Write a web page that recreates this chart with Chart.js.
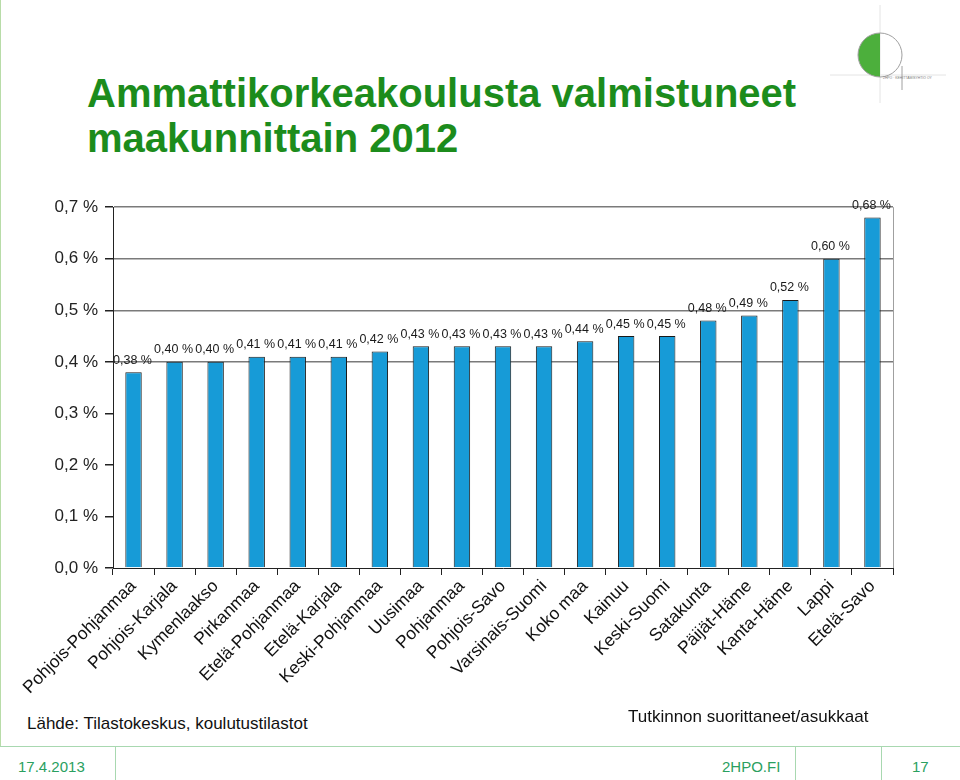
<!DOCTYPE html>
<html lang="fi">
<head>
<meta charset="utf-8">
<title>Ammattikorkeakoulusta valmistuneet maakunnittain 2012</title>
<script src="https://cdn.jsdelivr.net/npm/chart.js@4/dist/chart.umd.min.js"></script>
<style>
  html, body { margin: 0; padding: 0; background: #fff; }
  body { width: 960px; height: 780px; position: relative; overflow: hidden; font-family: "Liberation Sans", Arial, sans-serif; }
  .abs { position: absolute; white-space: nowrap; }
  #title { left: 87px; top: 71px; font-size: 40px; font-weight: bold; color: #1c8c1c; line-height: 45px; }
  #chartBox { left: 0; top: 190px; width: 960px; height: 520px; }
  #source { left: 27px; top: 714px; font-size: 17px; color: #111; }
  #unit { left: 628px; top: 707px; font-size: 17px; color: #111; }
  .foot { top: 758px; font-size: 15px; color: #2aa060; }
  .line { position: absolute; background: #a8d8b0; }
</style>
</head>
<body>

<div class="line" style="left:0;top:0;width:1px;height:747px;background:#b8dca8"></div>
<div class="line" style="left:0;top:746px;width:960px;height:1px"></div>
<div class="line" style="left:115px;top:747px;width:1px;height:33px"></div>
<div class="line" style="left:795px;top:747px;width:1px;height:33px"></div>
<div class="line" style="left:881px;top:747px;width:1px;height:33px"></div>

<svg class="abs" style="left:828px;top:0" width="132" height="110" viewBox="0 0 132 110">
  <line x1="2" y1="75" x2="118" y2="75" stroke="#e4e4e4" stroke-width="1"/>
  <line x1="52" y1="5" x2="52" y2="103" stroke="#e4e4e4" stroke-width="1"/>
  <path d="M52 33 A22 22 0 0 0 52 77 Z" fill="#4caf3c"/>
  <circle cx="52" cy="55" r="22" fill="none" stroke="#a0a0a0" stroke-width="1"/>
  <line x1="74" y1="66" x2="74" y2="90" stroke="#a0a0a0" stroke-width="1"/>
  <text x="55" y="79" font-size="3.4" fill="#7a7a7a" font-family="Liberation Sans">2HPO · KEHITTÄMISYHTIÖ OY</text>
</svg>

<div id="title" class="abs">Ammattikorkeakoulusta valmistuneet<br>maakunnittain 2012</div>

<div id="chartBox" class="abs"><canvas id="chart"></canvas></div>

<div id="source" class="abs">Lähde: Tilastokeskus, koulutustilastot</div>
<div id="unit" class="abs">Tutkinnon suorittaneet/asukkaat</div>

<div class="abs foot" style="left:18px">17.4.2013</div>
<div class="abs foot" style="left:722px">2HPO.FI</div>
<div class="abs foot" style="left:912px">17</div>

<script>
const regions = [
    'Pohjois-Pohjanmaa', 'Pohjois-Karjala', 'Kymenlaakso', 'Pirkanmaa',
    'Etelä-Pohjanmaa', 'Etelä-Karjala', 'Keski-Pohjanmaa', 'Uusimaa',
    'Pohjanmaa', 'Pohjois-Savo', 'Varsinais-Suomi', 'Koko maa', 'Kainuu',
    'Keski-Suomi', 'Satakunta', 'Päijät-Häme', 'Kanta-Häme', 'Lappi', 'Etelä-Savo'
];
const shares = [
    0.38, 0.40, 0.40, 0.41, 0.41, 0.41, 0.42, 0.43, 0.43, 0.43,
    0.43, 0.44, 0.45, 0.45, 0.48, 0.49, 0.52, 0.60, 0.68
];
const yTicks = [0, 0.1, 0.2, 0.3, 0.4, 0.5, 0.6, 0.7];

const fontFamily = '"Liberation Sans", Arial, sans-serif';
const barColor = '#179bd7';

function pct(v, digits) {
    return v.toFixed(digits).replace('.', ',') + ' %';
}

// value labels above the bars + grey right edge of the plot
const barLabels = {
    id: 'barLabels',
    afterDatasetsDraw(chart) {
        const ctx = chart.ctx;
        const area = chart.chartArea;
        ctx.save();
        ctx.strokeStyle = '#a0a0a0';
        ctx.lineWidth = 1;
        ctx.beginPath();
        ctx.moveTo(area.right + 0.5, area.top);
        ctx.lineTo(area.right + 0.5, area.bottom);
        ctx.stroke();

        ctx.font = '12.5px ' + fontFamily;
        ctx.fillStyle = '#1a1a1a';
        ctx.textAlign = 'center';
        ctx.textBaseline = 'middle';
        chart.getDatasetMeta(0).data.forEach((bar, i) => {
            ctx.fillText(pct(shares[i], 2), bar.x - 1, bar.y - 12);
        });
        ctx.restore();
    }
};

const ctx = document.getElementById('chart').getContext('2d');
new Chart(ctx, {
    type: 'bar',
    data: {
        labels: regions,
        datasets: [{
            data: shares,
            backgroundColor: barColor,
            borderColor: '#1a1a1a',
            borderWidth: 1,
            barPercentage: 0.4,
            categoryPercentage: 1
        }]
    },
    options: {
        responsive: true,
        maintainAspectRatio: false,
        animation: false,
        layout: { padding: { top: 15, right: 67, left: 0, bottom: 0 } },
        plugins: {
            legend: { display: false },
            tooltip: { enabled: false }
        },
        scales: {
            x: {
                afterFit(scale) { scale.height = 142; },
                border: { color: '#222', width: 1 },
                grid: {
                    offset: true,
                    drawOnChartArea: false,
                    tickLength: 7,
                    tickColor: '#222'
                },
                ticks: {
                    autoSkip: false,
                    minRotation: 45,
                    maxRotation: 45,
                    padding: 1,
                    color: '#111',
                    font: { family: fontFamily, size: 17.5 }
                }
            },
            y: {
                min: 0,
                max: 0.7,
                afterFit(scale) { scale.width = 113; },
                afterBuildTicks(scale) {
                    scale.ticks = yTicks.map(v => ({ value: v }));
                },
                border: { color: '#222', width: 1 },
                grid: {
                    color: c => (c.tick && c.tick.value >= 0.35 ? '#7a7a7a' : 'rgba(0,0,0,0)'),
                    lineWidth: 1.5,
                    tickLength: 8,
                    tickColor: '#222'
                },
                ticks: {
                    padding: 7,
                    color: '#222',
                    font: { family: fontFamily, size: 17 },
                    callback: v => pct(v, 1)
                }
            }
        }
    },
    plugins: [barLabels]
});
</script>
</body>
</html>
